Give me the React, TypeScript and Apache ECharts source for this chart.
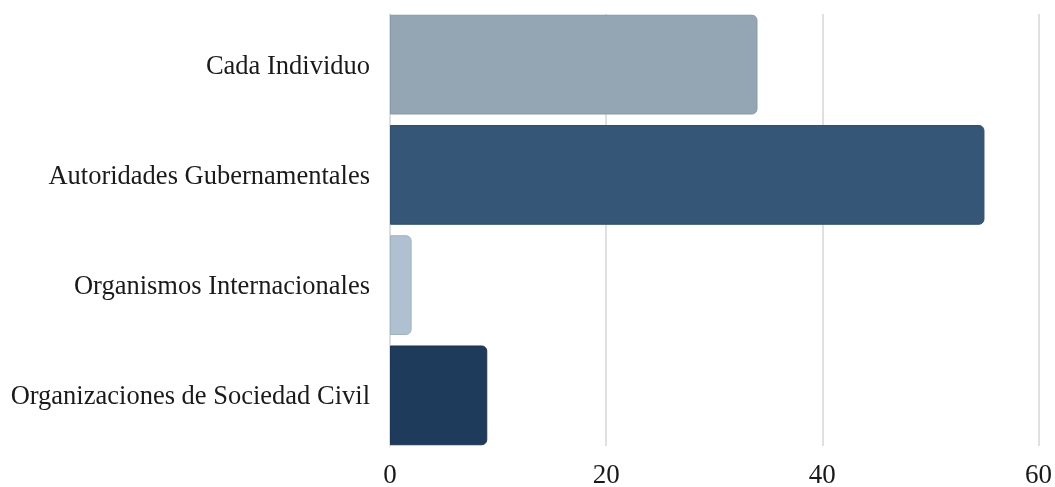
import React, { useEffect, useRef } from "react";
import * as echarts from "echarts";

const categories = [
  "Cada Individuo",
  "Autoridades Gubernamentales",
  "Organismos Internacionales",
  "Organizaciones de Sociedad Civil",
];
const values = [34, 55, 2, 9];
const barColors = ["#94a6b4", "#355677", "#afc1d1", "#1e3b5b"];
const borderColors = ["#8599a9", "#2f4f70", "#9fb2c4", "#1a3553"];
const xTicks = [0, 20, 40, 60];

export default function App() {
  const ref = useRef<HTMLDivElement>(null);
  useEffect(() => {
    if (!ref.current) return;
    const chart = echarts.init(ref.current, undefined, { renderer: "svg" });
    const font = "Liberation Serif";
    chart.setOption({
      animation: false,
      grid: [
        { left: 390, right: 16.5, top: 9.5, height: 441, containLabel: false },
        { left: 390, right: 16.5, top: 14, height: 432, containLabel: false },
      ],
      xAxis: [
        {
          gridIndex: 0,
          type: "value",
          min: xTicks[0],
          max: xTicks[xTicks.length - 1],
          interval: 20,
          show: false,
        },
        {
          gridIndex: 1,
          type: "value",
          min: xTicks[0],
          max: xTicks[xTicks.length - 1],
          interval: 20,
          axisLine: { show: false },
          axisTick: { show: false },
          splitLine: { show: true, lineStyle: { color: "#d6d6d6", width: 1.5 } },
          axisLabel: {
            fontFamily: font,
            fontSize: 27,
            color: "#1a1a1a",
            margin: 14,
          },
        },
      ],
      yAxis: [
        {
          gridIndex: 0,
          type: "category",
          data: categories,
          inverse: true,
          axisLine: { show: false },
          axisTick: { show: false },
          axisLabel: {
            fontFamily: font,
            fontSize: 26.5,
            color: "#1a1a1a",
            margin: 20,
          },
        },
        {
          gridIndex: 1,
          type: "category",
          data: categories,
          inverse: true,
          axisLine: { show: true, lineStyle: { color: "#dddddd", width: 1.5 } },
          axisTick: { show: false },
          axisLabel: { show: false },
        },
      ],
      series: [
        {
          type: "bar",
          xAxisIndex: 0,
          yAxisIndex: 0,
          barCategoryGap: "9.5%",
          data: values.map((v, i) => ({
            value: v,
            itemStyle: {
              color: barColors[i],
              borderColor: borderColors[i],
              borderWidth: 1,
              borderRadius: [0, 5, 5, 0],
            },
          })),
        },
      ],
    });
    return () => chart.dispose();
  }, []);
  return (
    <div
      ref={ref}
      style={{ width: 1055, height: 487, position: "fixed", left: 0, top: 0 }}
    />
  );
}
